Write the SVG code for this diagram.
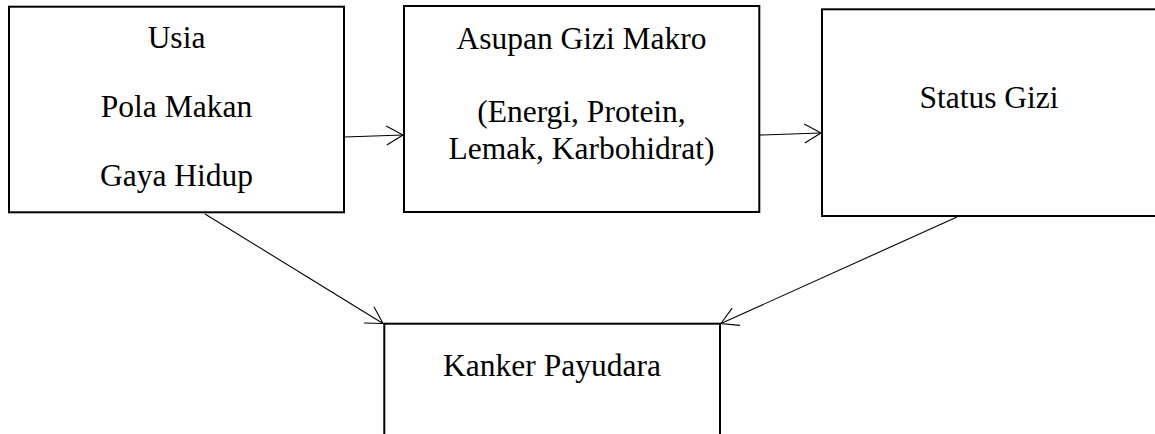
<svg xmlns="http://www.w3.org/2000/svg" width="1155" height="434" viewBox="0 0 1155 434">
  <style>
    .box { fill: #ffffff; stroke: #000000; stroke-width: 2; }
    .lbl { font-family: "Liberation Serif", "Times New Roman", serif; font-size: 31.5px; fill: #000000; text-anchor: middle; }
    .conn { fill: none; stroke: #000000; stroke-width: 1.1; marker-end: url(#arrow); }
  </style>
  <defs>
    <marker id="arrow" markerUnits="userSpaceOnUse" markerWidth="40" markerHeight="40" refX="0" refY="0" viewBox="-20 -20 40 40" orient="auto" overflow="visible">
      <path d="M -16.5,-9.5 L 0,0 L -16.5,9.5" fill="none" stroke="#000000" stroke-width="1.1"/>
    </marker>
  </defs>
  <rect width="1155" height="434" fill="#ffffff"/>
  <g id="connectors">
    <line class="conn" x1="344" y1="137" x2="403" y2="135"/>
    <line class="conn" x1="760" y1="135" x2="821" y2="133"/>
    <line class="conn" x1="205" y1="214" x2="383" y2="323.5"/>
    <line class="conn" x1="957" y1="217" x2="721" y2="323.5"/>
  </g>
  <g id="node-faktor">
    <rect class="box" x="9" y="6.7" width="335" height="205.6"/>
    <text class="lbl" x="176.5" y="47.5">Usia</text>
    <text class="lbl" x="176.5" y="116.7">Pola Makan</text>
    <text class="lbl" x="176.5" y="185.7">Gaya Hidup</text>
  </g>
  <g id="node-asupan">
    <rect class="box" x="404" y="6" width="355.3" height="206"/>
    <text class="lbl" x="581.5" y="49.3">Asupan Gizi Makro</text>
    <text class="lbl" x="581.5" y="121.7">(Energi, Protein,</text>
    <text class="lbl" x="581.5" y="159.3">Lemak, Karbohidrat)</text>
  </g>
  <g id="node-status">
    <rect class="box" x="822" y="9.3" width="335" height="206.7"/>
    <text class="lbl" x="989" y="108">Status Gizi</text>
  </g>
  <g id="node-kanker">
    <rect class="box" x="384.3" y="323.7" width="335.7" height="130"/>
    <text class="lbl" x="552" y="376">Kanker Payudara</text>
  </g>
</svg>
